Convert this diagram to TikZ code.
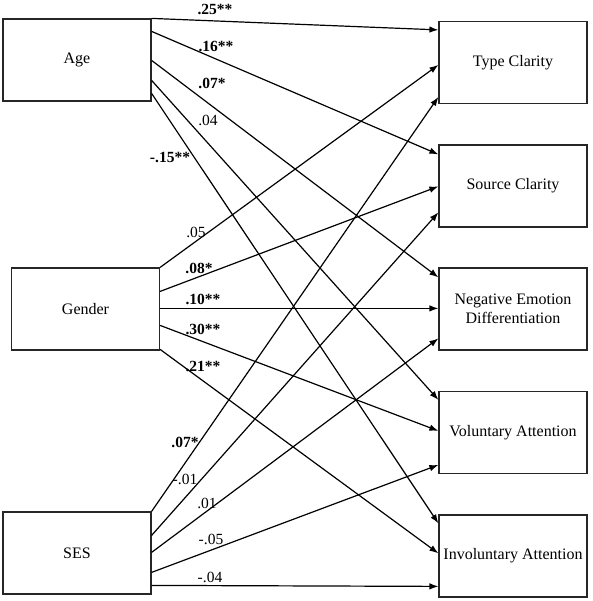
\documentclass[tikz,border=0pt]{standalone}
\usepackage{fontspec}
\setmainfont{Liberation Serif}
\usetikzlibrary{arrows.meta}
\begin{document}
\begin{tikzpicture}[x=1pt,y=-1pt,
  varbox/.style={draw=black!85,line width=1.2pt,minimum width=148pt,minimum height=82pt,inner sep=0pt,align=center,font=\fontsize{16}{19}\selectfont},
  path/.style={line width=1.2pt,-{Latex[length=9pt,width=6.5pt]}},
  coef/.style={inner sep=0pt,font=\fontsize{15.5}{18}\selectfont},
  sig/.style={coef,font=\fontsize{15.5}{18}\selectfont\bfseries}]
\useasboundingbox (0,0) rectangle (592,601);
% left
\node[varbox] (age) at (77,60) {Age};
\node[varbox] (gen) at (85.5,309) {Gender};
\node[varbox] (ses) at (77,553) {SES};
% right
\node[varbox] (tc) at (513,62.5) {Type Clarity};
\node[varbox] (sc) at (513,186) {Source Clarity};
\node[varbox] (ne) at (513,309) {Negative Emotion\\Differentiation};
\node[varbox] (va) at (513,432.5) {Voluntary Attention};
\node[varbox] (ia) at (513,556) {Involuntary Attention};
% Age paths
\draw[path] ([yshift=0pt]age.north east) -- ([yshift=-9pt]tc.north west);
\draw[path] ([yshift=-13pt]age.north east) -- ([yshift=-10pt]sc.north west);
\draw[path] ([yshift=-42pt]age.north east) -- ([yshift=-10pt]ne.north west);
\draw[path] ([yshift=-62pt]age.north east) -- ([yshift=-9pt]va.north west);
\draw[path] ([yshift=-75pt]age.north east) -- ([yshift=-9pt]ia.north west);
% Gender paths
\draw[path] ([yshift=0pt]gen.north east) -- ([yshift=-44pt]tc.north west);
\draw[path] ([yshift=-24pt]gen.north east) -- ([yshift=-42pt]sc.north west);
\draw[path] ([yshift=-41pt]gen.north east) -- ([yshift=-41pt]ne.north west);
\draw[path] ([yshift=-58pt]gen.north east) -- ([yshift=-40pt]va.north west);
\draw[path] ([yshift=-82pt]gen.north east) -- ([yshift=-39pt]ia.north west);
% SES paths
\draw[path] ([yshift=0pt]ses.north east) -- ([yshift=-76pt]tc.north west);
\draw[path] ([yshift=-24pt]ses.north east) -- ([yshift=-68pt]sc.north west);
\draw[path] ([yshift=-41pt]ses.north east) -- ([yshift=-71pt]ne.north west);
\draw[path] ([yshift=-61pt]ses.north east) -- ([yshift=-74pt]va.north west);
\draw[path] ([yshift=-74pt]ses.north east) -- ([yshift=-72pt]ia.north west);
% coefficients
\node[sig] (l1) at (215,9) {.25**};
\node[sig] (l2) at (216,46) {.16**};
\node[sig] (l3) at (212,83) {.07*};
\node[coef] (l4) at (208,120) {.04};
\node[sig] (l5) at (170,157) {-.15**};
\node[coef] (l6) at (196,232) {.05};
\node[sig] (l7) at (199,268) {.08*};
\node[sig] (l8) at (203,299) {.10**};
\node[sig] (l9) at (203,329) {.30**};
\node[sig] (l10) at (203,366) {.21**};
\node[sig] (l11) at (185,442) {.07*};
\node[coef] (l12) at (185,479) {-.01};
\node[coef] (l13) at (207,503) {.01};
\node[coef] (l14) at (211,539) {-.05};
\node[coef] (l15) at (210,577) {-.04};
\end{tikzpicture}
\end{document}
